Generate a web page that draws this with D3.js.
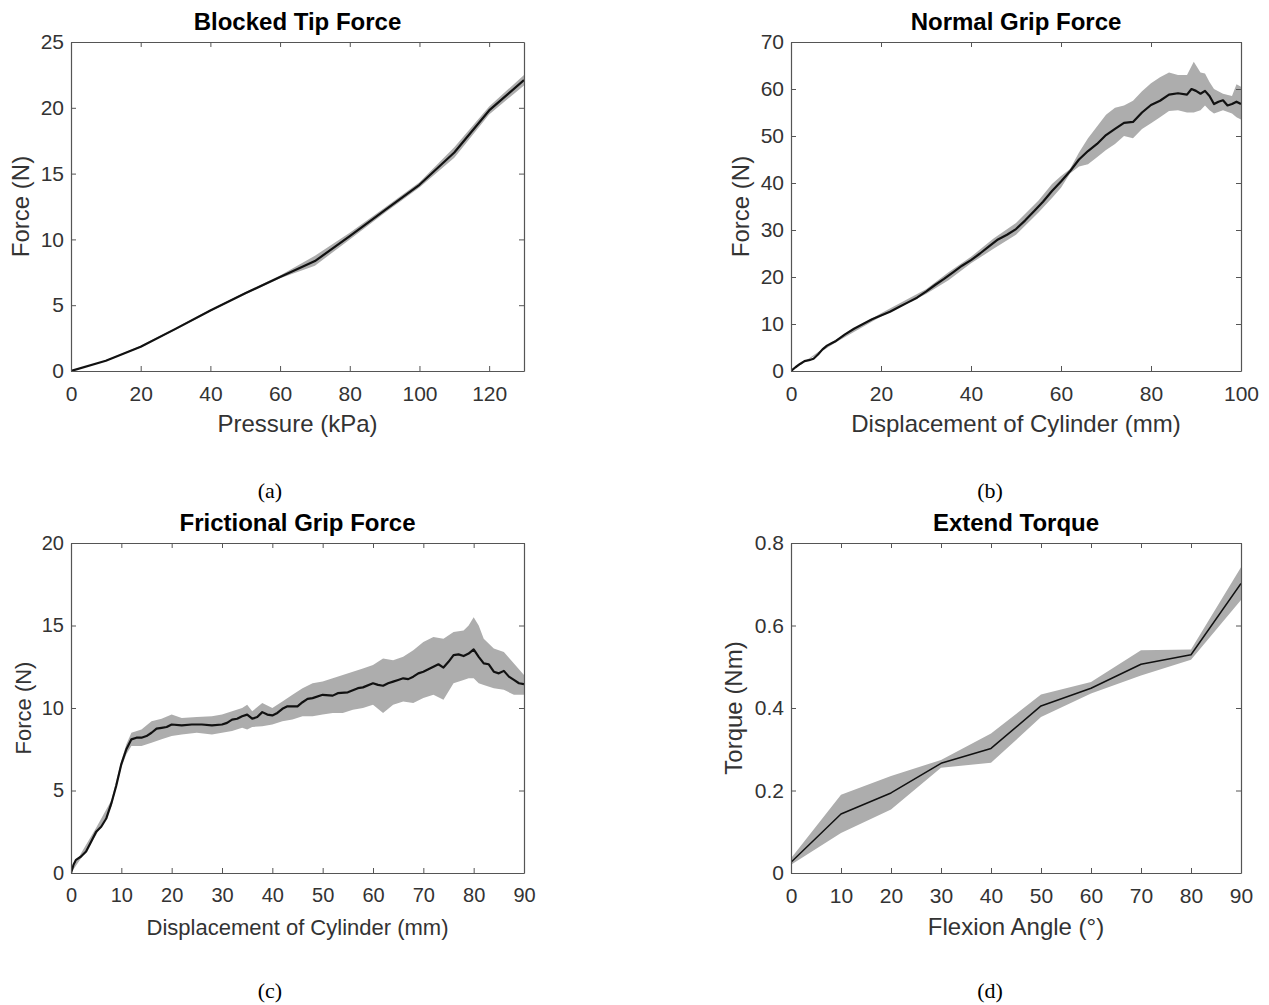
<!DOCTYPE html>
<html>
<head>
<meta charset="utf-8">
<script src="https://cdn.jsdelivr.net/npm/d3@7"></script>
<style>
  html, body { margin: 0; padding: 0; background: #fff; }
  svg { display: block; }
</style>
</head>
<body>
<svg id="chart" width="1269" height="1005"></svg>
<script>
// ---------- Panel (a): Blocked Tip Force ----------
const aPressure = [0, 10, 20, 30, 40, 50, 60, 70, 80, 90, 100, 110, 120, 130];
const aForceMean = [0, 0.78, 1.85, 3.2, 4.6, 5.9, 7.15, 8.35, 10.25, 12.2, 14.15, 16.6, 19.8, 22.1];
const aForceUpper = [0, 0.82, 1.92, 3.28, 4.68, 5.98, 7.25, 8.75, 10.5, 12.4, 14.35, 17.0, 20.1, 22.5];
const aForceLower = [0, 0.74, 1.78, 3.12, 4.52, 5.82, 7.05, 8.0, 10.0, 12.0, 13.95, 16.2, 19.5, 21.7];
const aXTicks = [0, 20, 40, 60, 80, 100, 120];
const aYTicks = [0, 5, 10, 15, 20, 25];

// ---------- Panel (b): Normal Grip Force ----------
const bDisp = [0, 1, 2, 3, 4, 5, 6, 7, 8, 9, 10, 12, 14, 16, 18, 20, 22, 24, 26, 28, 30, 32, 34, 36, 38, 40,
  42, 44, 46, 48, 50, 52, 54, 56, 58, 60, 62, 64, 66, 68, 70, 72, 74, 76, 78, 80, 82, 84, 86, 88, 89, 90,
  91, 92, 93, 94, 95, 96, 97, 98, 99, 100];
const bForceMean = [0, 0.8, 1.5, 2.1, 2.3, 2.6, 3.5, 4.6, 5.4, 5.9, 6.4, 7.8, 9.0, 10.0, 11.0, 11.8, 12.6, 13.6,
  14.6, 15.6, 16.9, 18.3, 19.6, 21.0, 22.4, 23.6, 25.0, 26.5, 28.0, 29.0, 30.2, 32.0, 34.0, 36.0, 38.3, 40.3,
  42.5, 45.0, 46.8, 48.3, 50.2, 51.5, 52.8, 53.0, 55.0, 56.6, 57.5, 58.8, 59.1, 58.8, 60.0, 59.6, 59.0, 59.6,
  58.5, 56.8, 57.3, 57.6, 56.5, 56.8, 57.3, 56.8];
const bBandDisp = [0, 10, 20, 30, 35, 40, 45, 50, 55, 58, 60, 62, 64, 66, 68, 70, 72, 74, 76, 78, 80, 82, 84,
  86, 88, 89.5, 91, 92, 93, 94, 96, 98, 99, 100];
const bForceUpper = [0, 6.7, 12.3, 17.4, 21.0, 24.3, 28.2, 31.5, 36.3, 39.8, 41.5, 43.0, 46.5, 49.5, 52.0, 54.5,
  56.0, 56.5, 57.5, 59.5, 61.2, 62.5, 63.5, 63.0, 63.0, 65.8, 63.5, 63.3, 61.5, 60.0, 59.0, 58.5, 61.0, 60.5];
const bForceLower = [0, 6.1, 11.6, 16.4, 19.3, 22.9, 26.0, 29.0, 33.7, 36.8, 39.0, 42.0, 43.5, 44.0, 45.5, 47.0,
  48.3, 50.0, 49.5, 51.5, 52.7, 54.0, 55.3, 55.5, 55.0, 55.0, 55.5, 56.5, 55.5, 54.8, 55.5, 54.8, 54.0, 53.5];
const bXTicks = [0, 20, 40, 60, 80, 100];
const bYTicks = [0, 10, 20, 30, 40, 50, 60, 70];

// ---------- Panel (c): Frictional Grip Force ----------
const cDisp = [0, 0.5, 1, 2, 3, 4, 5, 6, 7, 8, 9, 10, 11, 12, 13, 14, 15, 16, 17, 18, 19, 20, 22, 24, 26, 28, 30,
  31, 32, 33, 34, 35, 36, 37, 38, 39, 40, 41, 42, 43, 44, 45, 46, 47, 48, 50, 52, 53, 55, 57, 58, 60, 61, 62, 63,
  64, 65, 66, 67, 68, 69, 70, 71, 72, 73, 74, 75, 76, 77, 78, 79, 80, 81, 82, 83, 84, 85, 86, 87, 88, 89, 90];
const cForceMean = [0, 0.5, 0.8, 1.0, 1.3, 1.9, 2.5, 2.8, 3.3, 4.2, 5.3, 6.6, 7.5, 8.1, 8.2, 8.2, 8.3, 8.5, 8.75,
  8.8, 8.85, 9.0, 8.95, 9.0, 9.0, 8.95, 9.0, 9.1, 9.3, 9.35, 9.5, 9.6, 9.35, 9.45, 9.75, 9.6, 9.55, 9.7, 9.95, 10.1,
  10.1, 10.1, 10.35, 10.55, 10.6, 10.8, 10.75, 10.9, 10.95, 11.2, 11.25, 11.5, 11.4, 11.35, 11.5, 11.6, 11.7, 11.8,
  11.75, 11.9, 12.1, 12.2, 12.35, 12.5, 12.65, 12.45, 12.8, 13.2, 13.25, 13.15, 13.3, 13.55, 13.1, 12.7, 12.65,
  12.2, 12.1, 12.25, 11.9, 11.7, 11.5, 11.45];
const cBandDisp = [0, 2, 5, 8, 10, 11, 12, 14, 16, 18, 20, 22, 25, 28, 30, 32, 34, 35, 36, 38, 40, 42, 44, 46, 48,
  50, 52, 54, 56, 58, 60, 62, 64, 66, 68, 70, 72, 74, 76, 78, 79, 80, 81, 82, 84, 86, 88, 90];
const cForceUpper = [0.1, 1.2, 2.75, 4.4, 6.8, 7.8, 8.5, 8.7, 9.2, 9.35, 9.6, 9.4, 9.45, 9.5, 9.6, 9.8, 10.0, 10.2,
  9.8, 10.3, 10.0, 10.4, 10.8, 11.2, 11.5, 11.6, 11.8, 12.0, 12.2, 12.4, 12.6, 13.0, 12.9, 13.1, 13.5, 14.0, 14.3,
  14.2, 14.6, 14.7, 15.0, 15.5, 15.0, 14.2, 13.6, 13.4, 12.7, 12.0];
const cForceLower = [0, 0.9, 2.3, 4.0, 6.4, 7.2, 7.7, 7.7, 7.9, 8.1, 8.3, 8.4, 8.5, 8.4, 8.5, 8.6, 8.8, 8.7, 8.85,
  8.9, 9.0, 9.2, 9.3, 9.5, 9.5, 9.6, 9.7, 9.7, 9.9, 10.0, 10.2, 9.7, 10.2, 10.4, 10.3, 10.6, 10.8, 10.5, 11.5,
  11.7, 11.8, 11.8, 11.5, 11.4, 11.2, 11.1, 10.8, 10.8];
const cXTicks = [0, 10, 20, 30, 40, 50, 60, 70, 80, 90];
const cYTicks = [0, 5, 10, 15, 20];

// ---------- Panel (d): Extend Torque ----------
const dAngle = [0, 10, 20, 30, 40, 50, 60, 70, 80, 90];
const dTorqueMean = [0.026, 0.143, 0.194, 0.266, 0.302, 0.405, 0.448, 0.506, 0.529, 0.702];
const dTorqueUpper = [0.036, 0.19, 0.235, 0.274, 0.338, 0.433, 0.463, 0.54, 0.542, 0.741];
const dTorqueLower = [0.02, 0.097, 0.154, 0.255, 0.267, 0.378, 0.435, 0.479, 0.517, 0.662];
const dXTicks = [0, 10, 20, 30, 40, 50, 60, 70, 80, 90];
const dYTicks = [0, 0.2, 0.4, 0.6, 0.8];

// ---------- Drawing ----------
const svg = d3.select("#chart");
const FONT = "'Liberation Sans', Arial, Helvetica, sans-serif";
const TEXT = "#333333";
const AXIS = "#555555";
const BAND = "#adadad";

function zip(xs, ys) { return xs.map((x, i) => [x, ys[i]]); }
function zip3(xs, lo, hi) { return xs.map((x, i) => [x, lo[i], hi[i]]); }

function panel(cfg) {
  const { left, right, top, bottom } = cfg.box;
  const x = d3.scaleLinear().domain(cfg.xDomain).range([left, right]);
  const y = d3.scaleLinear().domain(cfg.yDomain).range([bottom, top]);
  const g = svg.append("g");
  const clipId = "clip-" + cfg.id;
  svg.append("clipPath").attr("id", clipId).append("rect")
    .attr("x", left).attr("y", top).attr("width", right - left).attr("height", bottom - top);

  const plot = g.append("g").attr("clip-path", `url(#${clipId})`);
  const area = d3.area().x(d => x(d[0])).y0(d => y(d[1])).y1(d => y(d[2]));
  plot.append("path").datum(zip3(cfg.bandX, cfg.lower, cfg.upper))
    .attr("d", area).attr("fill", BAND).attr("stroke", "none");
  const line = d3.line().x(d => x(d[0])).y(d => y(d[1]));
  plot.append("path").datum(zip(cfg.lineX, cfg.mean))
    .attr("d", line).attr("fill", "none").attr("stroke", "#111")
    .attr("stroke-width", cfg.lineWidth).attr("stroke-linejoin", "round");

  const fmt = cfg.yFormat || (d => d);
  const axB = d3.axisBottom(x).tickValues(cfg.xTicks).tickSizeInner(-5).tickSizeOuter(0).tickPadding(cfg.xPad).tickFormat(d => d);
  const axT = d3.axisTop(x).tickValues(cfg.xTicks).tickSizeInner(-5).tickSizeOuter(0).tickFormat("");
  const axL = d3.axisLeft(y).tickValues(cfg.yTicks).tickSizeInner(-5).tickSizeOuter(0).tickPadding(cfg.yPad).tickFormat(fmt);
  const axR = d3.axisRight(y).tickValues(cfg.yTicks).tickSizeInner(-5).tickSizeOuter(0).tickFormat("");

  const styleAxis = sel => {
    sel.selectAll("path.domain").attr("stroke", AXIS).attr("stroke-width", 1.2);
    sel.selectAll(".tick line").attr("stroke", AXIS).attr("stroke-width", 1);
    sel.selectAll(".tick text").attr("fill", TEXT).attr("font-family", FONT).attr("font-size", cfg.tickFont);
  };
  g.append("g").attr("transform", `translate(0,${bottom})`).call(axB).call(styleAxis);
  g.append("g").attr("transform", `translate(0,${top})`).call(axT).call(styleAxis);
  g.append("g").attr("transform", `translate(${left},0)`).call(axL).call(styleAxis);
  g.append("g").attr("transform", `translate(${right},0)`).call(axR).call(styleAxis);

  const cx = (left + right) / 2;
  g.append("text").attr("x", cx).attr("y", top - 12)
    .attr("text-anchor", "middle").attr("font-family", FONT).attr("font-weight", "bold")
    .attr("font-size", cfg.titleFont).attr("fill", "#000").text(cfg.title);
  g.append("text").attr("x", cx).attr("y", bottom + cfg.xLabelOff)
    .attr("text-anchor", "middle").attr("font-family", FONT)
    .attr("font-size", cfg.labelFont).attr("fill", TEXT).text(cfg.xLabel);
  const ly = (top + bottom) / 2;
  g.append("text").attr("transform", `translate(${cfg.yLabelX},${ly}) rotate(-90)`)
    .attr("text-anchor", "middle").attr("font-family", FONT)
    .attr("font-size", cfg.labelFont).attr("fill", TEXT).text(cfg.yLabel);
  g.append("text").attr("x", cfg.tag[1]).attr("y", cfg.tag[2])
    .attr("text-anchor", "middle").attr("font-family", "'Liberation Serif', 'Times New Roman', serif")
    .attr("font-size", 22).attr("fill", "#000").text(cfg.tag[0]);
}

panel({
  id: "a", box: { left: 71, right: 524, top: 42, bottom: 371 },
  xDomain: [0, 130], yDomain: [0, 25], xTicks: aXTicks, yTicks: aYTicks,
  lineX: aPressure, mean: aForceMean, bandX: aPressure, upper: aForceUpper, lower: aForceLower,
  lineWidth: 2.2, title: "Blocked Tip Force", xLabel: "Pressure (kPa)", yLabel: "Force (N)",
  tickFont: 21, labelFont: 24, titleFont: 24, xPad: 15, yPad: 7, xLabelOff: 61, yLabelX: 29,
  tag: ["(a)", 270, 498]
});
panel({
  id: "b", box: { left: 791, right: 1241, top: 42, bottom: 371 },
  xDomain: [0, 100], yDomain: [0, 70], xTicks: bXTicks, yTicks: bYTicks,
  lineX: bDisp, mean: bForceMean, bandX: bBandDisp, upper: bForceUpper, lower: bForceLower,
  lineWidth: 2.2, title: "Normal Grip Force", xLabel: "Displacement of Cylinder (mm)", yLabel: "Force (N)",
  tickFont: 21, labelFont: 24, titleFont: 24, xPad: 15, yPad: 7, xLabelOff: 61, yLabelX: 749,
  tag: ["(b)", 990, 498]
});
panel({
  id: "c", box: { left: 71, right: 524, top: 543, bottom: 873 },
  xDomain: [0, 90], yDomain: [0, 20], xTicks: cXTicks, yTicks: cYTicks,
  lineX: cDisp, mean: cForceMean, bandX: cBandDisp, upper: cForceUpper, lower: cForceLower,
  lineWidth: 2.2, title: "Frictional Grip Force", xLabel: "Displacement of Cylinder (mm)", yLabel: "Force (N)",
  tickFont: 20, labelFont: 22, titleFont: 24, xPad: 15, yPad: 7, xLabelOff: 62, yLabelX: 31,
  tag: ["(c)", 270, 998]
});
panel({
  id: "d", box: { left: 791, right: 1241, top: 543, bottom: 873 },
  xDomain: [0, 90], yDomain: [0, 0.8], xTicks: dXTicks, yTicks: dYTicks,
  lineX: dAngle, mean: dTorqueMean, bandX: dAngle, upper: dTorqueUpper, lower: dTorqueLower,
  lineWidth: 1.5, title: "Extend Torque", xLabel: "Flexion Angle (°)", yLabel: "Torque (Nm)",
  tickFont: 21, labelFont: 24, titleFont: 24, xPad: 15, yPad: 7, xLabelOff: 62, yLabelX: 742,
  yFormat: d => (d === 0 ? "0" : d3.format(".1f")(d)),
  tag: ["(d)", 990, 998]
});
</script>
</body>
</html>
